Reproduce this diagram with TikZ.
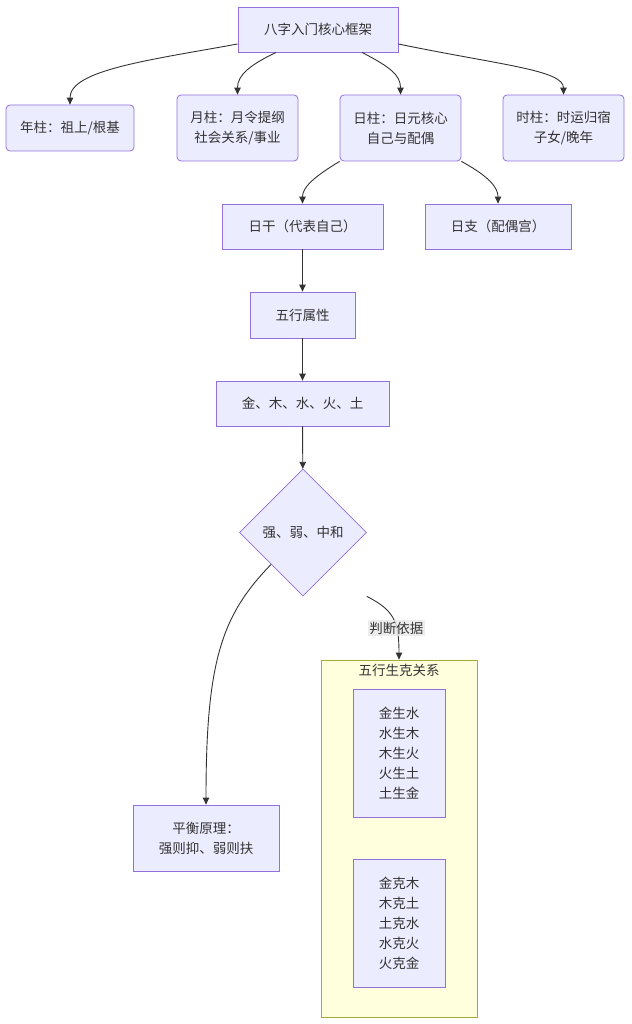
\documentclass[tikz,border=0pt]{standalone}
\usepackage{fontspec}
\setmainfont{Noto Sans CJK SC}
\usepackage{tikz}
\usetikzlibrary{shapes.geometric,arrows.meta}

\definecolor{nodefill}{HTML}{ECECFF}
\definecolor{nodeline}{HTML}{9370DB}
\definecolor{txt}{HTML}{333333}
\definecolor{clusterfill}{HTML}{FFFFDE}
\definecolor{clusterline}{HTML}{AAAA33}
\definecolor{lblfill}{HTML}{E8E8E8}

\begin{document}
\begin{tikzpicture}[x=1pt,y=-1pt,
	font=\fontsize{13.5}{20}\selectfont, text=txt,
	box/.style={rectangle,draw=nodeline,fill=nodefill,line width=0.8pt,inner sep=0pt,align=center},
	rbox/.style={box,rounded corners=4pt},
	arr/.style={-{Triangle[length=7pt,width=6.5pt]},draw=txt,line width=0.9pt}]
	
		\useasboundingbox (0,0) rectangle (631,1024);
		
		\node[box,minimum width=160pt,minimum height=45pt] (top) at (318,29.5) {八字入门核心框架};
		\node[rbox,minimum width=128pt,minimum height=46pt] (nian) at (70,128) {年柱：祖上/根基};
		\node[rbox,minimum width=121pt,minimum height=66pt] (yue) at (237.5,128) {月柱：月令提纲\\社会关系/事业};
		\node[rbox,minimum width=121pt,minimum height=66pt] (ri) at (400.5,128) {日柱：日元核心\\自己与配偶};
		\node[rbox,minimum width=121pt,minimum height=66pt] (shi) at (563.5,128) {时柱：时运归宿\\子女/晚年};
		\node[box,minimum width=161pt,minimum height=45pt] (rigan) at (302.5,226.5) {日干（代表自己）};
		\node[box,minimum width=146pt,minimum height=45pt] (rizhi) at (498,226.5) {日支（配偶宫）};
		\node[box,minimum width=105pt,minimum height=46pt] (wuxing) at (302.5,315) {五行属性};
		\node[box,minimum width=173pt,minimum height=45pt] (wuxs) at (302.5,403.5) {金、木、水、火、土};
		\node[diamond,draw=nodeline,fill=nodefill,line width=0.8pt,inner sep=0pt,aspect=1,minimum size=127pt] (qiangruo) at (303,532.5) {强、弱、中和};
		\node[box,minimum width=146pt,minimum height=66pt] (pingheng) at (206,838) {平衡原理：\\强则抑、弱则扶};
		
		% cluster
		\node[rectangle,draw=clusterline,fill=clusterfill,line width=0.8pt,minimum width=156pt,minimum height=357pt,inner sep=0pt] (shengke) at (399,838.5) {};
		\node (shengketitle) at (399,670) {五行生克关系};
		\node[box,minimum width=92pt,minimum height=128pt] (sheng) at (399,753) {金生水\\水生木\\木生火\\火生土\\土生金};
		\node[box,minimum width=92pt,minimum height=128pt] (ke) at (399,923) {金克木\\木克土\\土克水\\水克火\\火克金};
		
		\coordinate (qr) at (qiangruo.east |- qiangruo.south);
		
		\draw[arr] ([yshift=-14.5pt]top.west) .. controls (150,60) and (70,70) .. (nian.north);
		\draw[arr] ([xshift=-42pt]top.south) .. controls (250,65) and (237.5,75) .. (yue.north);
		\draw[arr] ([xshift=44pt]top.south) .. controls (390,67) and (400.5,75) .. (ri.north);
		\draw[arr] ([yshift=-14.5pt]top.east) .. controls (500,65) and (563.5,70) .. (shi.north);
		\draw[arr] (ri.south west) .. controls (312,178) and (302.5,188) .. (rigan.north);
		\draw[arr] (ri.south east) .. controls (490,177) and (498,188) .. (rizhi.north);
		\draw[arr] (rigan) -- (wuxing);
		\draw[arr] (wuxing) -- (wuxs);
		\draw[arr] (wuxs) -- (qiangruo);
		\draw[arr] (qiangruo.south west) .. controls (222,615) and (206,660) .. (pingheng.north);
		\draw[arr] (qr) .. controls (393,610) and (399,620) .. node[pos=0.66,fill=lblfill,fill opacity=0.8,text opacity=1,inner sep=1.5pt] (yiju) {判断依据} (shengke.north);
		
	\end{tikzpicture}
\end{document}
